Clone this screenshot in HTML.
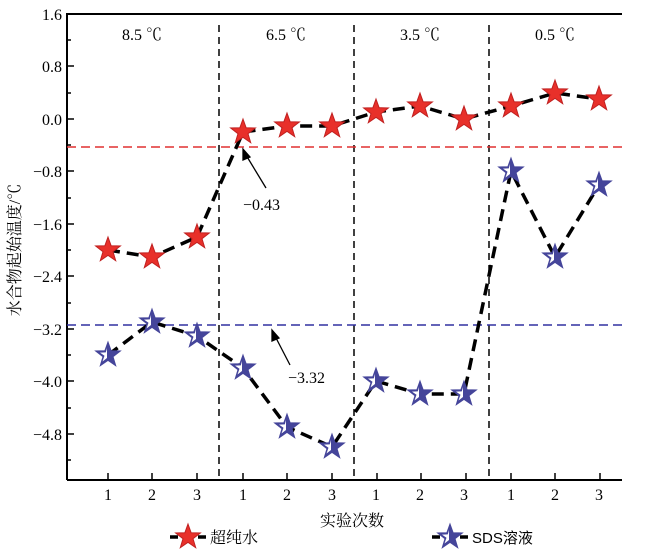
<!DOCTYPE html>
<html><head><meta charset="utf-8"><style>body{margin:0;background:#fff}</style></head><body>
<svg width="650" height="549" xmlns="http://www.w3.org/2000/svg" font-family="Liberation Serif, Noto Serif CJK SC, serif">
<defs>
<polygon id="st" points="0,-13 3.1,-4.3 12.4,-4 5,1.7 7.7,10.6 0,5.3 -7.7,10.6 -5,1.7 -12.4,-4 -3.1,-4.3"/>
<g id="bs">
<use href="#st" fill="#45459a" stroke="#45459a" stroke-width="1"/>
<polygon points="-1,-7 -1,3 -5.5,6.5 -3.5,0.8 -8,-2.4 -2.2,-2.6" fill="#fff"/>
</g>
</defs>
<g stroke="#000" stroke-width="2" fill="none">
<polyline points="67,480 67,14 622,14"/>
<line x1="67" y1="480" x2="622" y2="480"/>
</g>
<g stroke="#000" stroke-width="1.5">
<line x1="67" y1="14" x2="74" y2="14"/><line x1="67" y1="40" x2="71" y2="40"/>
<line x1="67" y1="66" x2="74" y2="66"/><line x1="67" y1="93" x2="71" y2="93"/>
<line x1="67" y1="119" x2="74" y2="119"/><line x1="67" y1="145" x2="71" y2="145"/>
<line x1="67" y1="171" x2="74" y2="171"/><line x1="67" y1="198" x2="71" y2="198"/>
<line x1="67" y1="224" x2="74" y2="224"/><line x1="67" y1="250" x2="71" y2="250"/>
<line x1="67" y1="276" x2="74" y2="276"/><line x1="67" y1="303" x2="71" y2="303"/>
<line x1="67" y1="329" x2="74" y2="329"/><line x1="67" y1="355" x2="71" y2="355"/>
<line x1="67" y1="381" x2="74" y2="381"/><line x1="67" y1="408" x2="71" y2="408"/>
<line x1="67" y1="434" x2="74" y2="434"/><line x1="67" y1="460" x2="71" y2="460"/>
<g id="xt"><line x1="108" y1="480" x2="108" y2="473"/><line x1="152" y1="480" x2="152" y2="473"/><line x1="197" y1="480" x2="197" y2="473"/></g>
<use href="#xt" x="135"/><use href="#xt" x="269"/><use href="#xt" x="403"/>
</g>
<g font-size="16" text-anchor="end">
<text x="62" y="20">1.6</text><text x="62" y="72">0.8</text><text x="62" y="125">0.0</text>
<text x="62" y="177">−0.8</text><text x="62" y="230">−1.6</text><text x="62" y="282">−2.4</text>
<text x="62" y="335">−3.2</text><text x="62" y="387">−4.0</text><text x="62" y="440">−4.8</text>
</g>
<g font-size="16" text-anchor="middle">
<text x="108" y="500">1</text><text x="152" y="500">2</text><text x="197" y="500">3</text>
<text x="243" y="500">1</text><text x="287" y="500">2</text><text x="332" y="500">3</text>
<text x="376" y="500">1</text><text x="420" y="500">2</text><text x="464" y="500">3</text>
<text x="511" y="500">1</text><text x="555" y="500">2</text><text x="599" y="500">3</text>
<text x="142" y="40">8.5 ℃</text><text x="286" y="40">6.5 ℃</text><text x="420" y="40">3.5 ℃</text><text x="555" y="40">0.5 ℃</text>
<text x="352" y="526">实验次数</text>
<text transform="translate(20,250) rotate(-90)">水合物起始温度/℃</text>
</g>
<g stroke="#000" stroke-width="1.5" stroke-dasharray="7,5">
<line x1="219" y1="25" x2="219" y2="480"/><line x1="354" y1="25" x2="354" y2="480"/><line x1="489" y1="25" x2="489" y2="480"/>
</g>
<line x1="67" y1="147" x2="622" y2="147" stroke="#e03030" stroke-width="1.5" stroke-dasharray="9,5"/>
<line x1="67" y1="325" x2="622" y2="325" stroke="#3030a0" stroke-width="1.5" stroke-dasharray="9,5"/>
<g stroke="#000" stroke-width="1.3" fill="#000">
<line x1="266" y1="188" x2="246" y2="155"/><polygon points="243,149 250,157 243,160"/>
<line x1="290" y1="365" x2="275" y2="336"/><polygon points="272,330 279,338 272,341"/>
</g>
<g font-size="16"><text x="243" y="210">−0.43</text><text x="288" y="383">−3.32</text></g>
<g fill="none" stroke="#000" stroke-width="3.5" stroke-dasharray="12,7">
<polyline points="108,250 152,257 197,237 243,132 287,126 332,126 376,112 420,106 464,119 511,106 555,93 599,99"/>
<polyline points="108,355 152,322 197,336 243,368 287,427 332,447 376,381 420,394 464,394 511,171 555,257 599,185"/>
</g>
<g fill="#e8302a" stroke="#c02020" stroke-width="1">
<use href="#st" x="108" y="250"/><use href="#st" x="152" y="257"/><use href="#st" x="197" y="237"/>
<use href="#st" x="243" y="132"/><use href="#st" x="287" y="126"/><use href="#st" x="332" y="126"/>
<use href="#st" x="376" y="112"/><use href="#st" x="420" y="106"/><use href="#st" x="464" y="119"/>
<use href="#st" x="511" y="106"/><use href="#st" x="555" y="93"/><use href="#st" x="599" y="99"/>
</g>
<use href="#bs" x="108" y="355"/><use href="#bs" x="152" y="322"/><use href="#bs" x="197" y="336"/>
<use href="#bs" x="243" y="368"/><use href="#bs" x="287" y="427"/><use href="#bs" x="332" y="447"/>
<use href="#bs" x="376" y="381"/><use href="#bs" x="420" y="394"/><use href="#bs" x="464" y="394"/>
<use href="#bs" x="511" y="171"/><use href="#bs" x="555" y="257"/><use href="#bs" x="599" y="185"/>
<g stroke="#000" stroke-width="3.5">
<line x1="170" y1="537" x2="178" y2="537"/><line x1="198" y1="537" x2="206" y2="537"/>
<line x1="432" y1="537" x2="440" y2="537"/><line x1="460" y1="537" x2="468" y2="537"/>
</g>
<use href="#st" x="188" y="537" fill="#e8302a" stroke="#c02020"/>
<use href="#bs" x="450" y="537"/>
<text x="210" y="543" font-size="16">超纯水</text>
<text x="472" y="543" font-size="15" font-family="Liberation Sans, Noto Sans CJK SC, sans-serif">SDS溶液</text>
</svg>
</body></html>
